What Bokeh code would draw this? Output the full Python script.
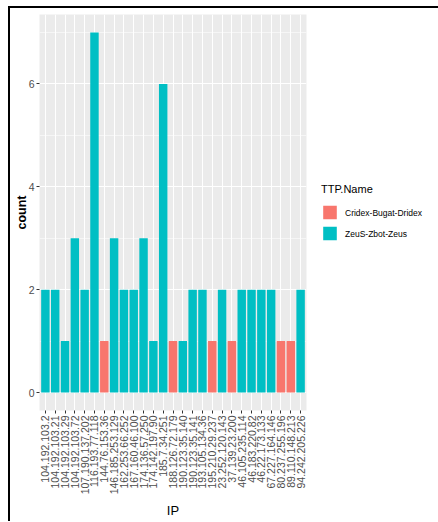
import math

from bokeh.plotting import figure
from bokeh.models import (ColumnDataSource, FactorRange, Range1d, FixedTicker,
                          Legend, LegendItem)
from bokeh.embed import file_html
from bokeh.resources import INLINE

# Hits per source IP, split by TTP family
ips = [
    "104.192.103.2", "104.192.103.21", "104.192.103.29", "104.192.103.72",
    "107.190.137.202", "116.193.77.118", "144.76.153.36", "146.185.253.129",
    "162.253.66.252", "167.160.46.100", "174.136.57.250", "174.142.197.90",
    "185.7.34.251", "188.126.72.179", "190.123.35.140", "190.123.35.141",
    "193.105.134.36", "195.210.29.237", "23.252.120.143", "37.139.23.200",
    "46.105.235.114", "46.183.220.82", "46.22.173.133", "67.227.164.146",
    "80.237.255.196", "89.110.148.213", "94.242.205.226",
]
counts = [2, 2, 1, 3, 2, 7, 1, 3, 2, 2, 3, 1, 6, 1, 1, 2, 2, 1, 2, 1,
          2, 2, 2, 2, 1, 1, 2]
ttp = ["ZeuS-Zbot-Zeus", "ZeuS-Zbot-Zeus", "ZeuS-Zbot-Zeus", "ZeuS-Zbot-Zeus",
       "ZeuS-Zbot-Zeus", "ZeuS-Zbot-Zeus", "Cridex-Bugat-Dridex", "ZeuS-Zbot-Zeus",
       "ZeuS-Zbot-Zeus", "ZeuS-Zbot-Zeus", "ZeuS-Zbot-Zeus", "ZeuS-Zbot-Zeus",
       "ZeuS-Zbot-Zeus", "Cridex-Bugat-Dridex", "ZeuS-Zbot-Zeus", "ZeuS-Zbot-Zeus",
       "ZeuS-Zbot-Zeus", "Cridex-Bugat-Dridex", "ZeuS-Zbot-Zeus", "Cridex-Bugat-Dridex",
       "ZeuS-Zbot-Zeus", "ZeuS-Zbot-Zeus", "ZeuS-Zbot-Zeus", "ZeuS-Zbot-Zeus",
       "Cridex-Bugat-Dridex", "Cridex-Bugat-Dridex", "ZeuS-Zbot-Zeus"]
families = ["Cridex-Bugat-Dridex", "ZeuS-Zbot-Zeus"]
family_colors = ["#F8766D", "#00BFC4"]

FONT = "Liberation Sans"

p = figure(
    x_range=FactorRange(factors=ips, range_padding=0.2 / len(ips)),
    y_range=Range1d(-0.35, 7.35),
    frame_width=267, frame_height=396,
    min_border_left=29, min_border_top=6, min_border_right=130, min_border_bottom=108,
    output_backend="svg", toolbar_location=None,
    background_fill_color="#EBEBEB", border_fill_color="white",
    outline_line_color=None,
)
p.margin = (6, 0, 0, 8)
p.styles = {"border-top": "2px solid black", "border-left": "2px solid black"}

renderers = []
for fam, col in zip(families, family_colors):
    idx = [i for i, t in enumerate(ttp) if t == fam]
    src = ColumnDataSource(dict(ip=[ips[i] for i in idx], count=[counts[i] for i in idx]))
    r = p.vbar(x="ip", top="count", bottom=0, width=0.86, source=src,
               fill_color=col, line_color=None)
    renderers.append(r)

# grid in the grey-panel style
p.xgrid.grid_line_color = "white"
p.xgrid.grid_line_width = 1.1
p.ygrid.grid_line_color = "white"
p.ygrid.grid_line_width = 1.1
p.ygrid.minor_grid_line_color = "white"
p.ygrid.minor_grid_line_width = 0.55
p.yaxis.ticker = FixedTicker(ticks=[0, 2, 4, 6], minor_ticks=[1, 3, 5, 7])

for ax in (p.xaxis[0], p.yaxis[0]):
    ax.axis_line_color = None
    ax.major_tick_line_color = "#333333"
    ax.major_tick_out = 3
    ax.major_tick_in = 0
    ax.minor_tick_line_color = None
    ax.major_label_text_font = FONT
    ax.major_label_text_font_size = "10.5px"
    ax.major_label_text_color = "#4D4D4D"
    ax.major_label_standoff = 2
    ax.axis_label_text_font = FONT
    ax.axis_label_text_color = "black"

p.xaxis.major_label_orientation = math.pi / 2
p.xaxis.axis_label = "IP"
p.xaxis.axis_label_text_font_size = "13px"
p.xaxis.axis_label_text_font_style = "normal"
p.xaxis.axis_label_standoff = 6
p.yaxis.axis_label = "count"
p.yaxis.axis_label_text_font_size = "12.5px"
p.yaxis.axis_label_text_font_style = "bold"
p.yaxis.axis_label_standoff = -3
p.yaxis.major_label_standoff = 1

legend = Legend(
    items=[LegendItem(label=f, renderers=[r]) for f, r in zip(families, renderers)],
    title="TTP.Name", location="center_left",
    title_text_font=FONT, title_text_font_size="11px", title_text_font_style="normal",
    title_text_color="black", title_standoff=9,
    label_text_font=FONT, label_text_font_size="8.5px", label_text_color="black",
    glyph_width=17, glyph_height=17, label_height=17, label_standoff=7, spacing=4,
    padding=5, margin=15, border_line_color=None, background_fill_alpha=0,
)
p.add_layout(legend, "right")

open("out.html", "w").write(file_html(p, INLINE))
